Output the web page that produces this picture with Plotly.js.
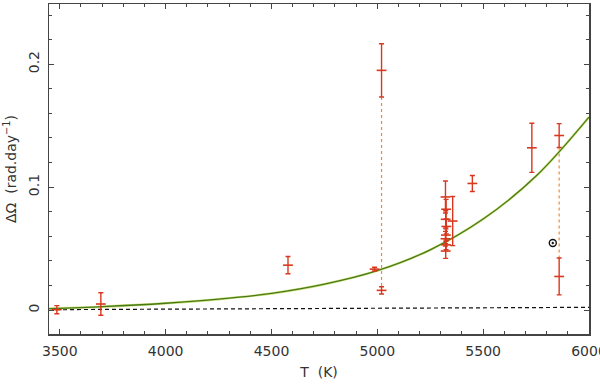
<!DOCTYPE html>
<html>
<head>
<meta charset="utf-8">
<script src="https://cdn.plot.ly/plotly-3.0.1.min.js"></script>
<style>html,body{margin:0;padding:0;background:#fff;}#chart{width:600px;height:388px;}</style>
</head>
<body>
<div id="chart"></div>
<script>
// Measured stars (temperature K, differential rotation rad/day, symmetric error)
var starT   = [3486, 3694, 4578, 4987, 5020, 5020, 5322, 5325, 5323, 5326, 5324, 5322, 5325, 5323, 5356, 5449, 5730, 5859, 5859];
var starDO  = [0.0003, 0.0049, 0.0365, 0.0333, 0.195, 0.016, 0.092, 0.082, 0.0738, 0.068, 0.061, 0.058, 0.053, 0.048, 0.0724, 0.103, 0.132, 0.142, 0.0273];
var starErr = [0.0033, 0.0092, 0.007, 0.0015, 0.0217, 0.003, 0.013, 0.008, 0.007, 0.006, 0.005, 0.006, 0.004, 0.006, 0.02, 0.0065, 0.02, 0.0097, 0.015];

// Dotted links joining two solutions of the same star
var linkT      = [5020, 5859];
var linkTop    = [0.1733, 0.1323];
var linkBottom = [0.019, 0.0423];

// Sun-like open circle point
var sunT  = [5829];
var sunDO = [0.0546];

// Fitted curve
var curveT  = [3449, 3500, 3700, 4000, 4250, 4500, 4750, 5000, 5250, 5500, 5750, 6000];
var curveDO = [0.0011, 0.0014, 0.0027, 0.0055, 0.0088, 0.0135, 0.021, 0.032, 0.049, 0.074, 0.109, 0.157];

// Zero reference (dashed)
var zeroT  = [3449, 6000];
var zeroDO = [0.0003, 0.0022];

// Tick labels
var xTicks = [3500, 4000, 4500, 5000, 5500, 6000];
var yTicks = [0, 0.1, 0.2];
var yTickText = ['0', '0.1', '0.2'];

var linkX = [], linkY = [];
for (var i = 0; i < linkT.length; i++) {
  linkX.push(linkT[i], linkT[i], null);
  linkY.push(linkTop[i], linkBottom[i], null);
}

var red = '#d9381e';
var traces = [
  {x: zeroT, y: zeroDO, mode: 'lines', line: {color: '#111', width: 1.2, dash: '4px,3px'}, hoverinfo: 'skip'},
  {x: linkX, y: linkY, mode: 'lines', line: {color: '#ec8a3c', width: 1.2, dash: 'dot'}, hoverinfo: 'skip'},
  {x: curveT, y: curveDO, mode: 'lines', line: {color: '#d2e07a', width: 2.4, shape: 'spline'}, hoverinfo: 'skip'},
  {x: curveT, y: curveDO, mode: 'lines', line: {color: '#457a1a', width: 1.3, shape: 'spline'}, hoverinfo: 'skip'},
  {x: starT, y: starDO, mode: 'markers',
   marker: {symbol: 'line-ew', size: 7, color: red, line: {color: red, width: 1.6}},
   error_y: {type: 'data', array: starErr, visible: true, color: red, thickness: 1.4, width: 2.5}},
  {x: sunT, y: sunDO, mode: 'markers',
   marker: {symbol: 'circle-dot', size: 7, color: 'rgba(0,0,0,0)', line: {color: '#111', width: 1.4}}}
];

var axisCommon = {
  showgrid: false, zeroline: false, showline: true, linecolor: '#444', linewidth: 1.5,
  mirror: 'ticks', ticks: 'inside', ticklen: 5, tickwidth: 1, tickcolor: '#444',
  ticklabeloverflow: 'allow',
  tickfont: {family: 'DejaVu Sans', size: 14, color: '#333'}
};

var layout = {
  width: 600, height: 388,
  margin: {l: 49, r: 11, t: 4, b: 54},
  paper_bgcolor: '#fff', plot_bgcolor: '#fff',
  showlegend: false,
  xaxis: Object.assign({}, axisCommon, {
    range: [3449, 6000], tickvals: xTicks, ticklabelstandoff: 4,
    minor: {dtick: 100, ticks: 'inside', ticklen: 3, tickcolor: '#444'},
    title: {text: 'T  (K)', font: {family: 'DejaVu Sans', size: 14, color: '#333'}, standoff: 9}
  }),
  yaxis: Object.assign({}, axisCommon, {
    range: [-0.0195, 0.249], tickvals: yTicks, ticktext: yTickText, tickangle: -90, ticklabelstandoff: 3,
    minor: {dtick: 0.02, ticks: 'inside', ticklen: 3, tickcolor: '#444'},
    title: {text: 'ΔΩ  (rad.day<sup>−1</sup>)', font: {family: 'DejaVu Sans', size: 14, color: '#333'}, standoff: 6}
  })
};

Plotly.newPlot('chart', traces, layout, {staticPlot: true, displayModeBar: false});
</script>
</body>
</html>
